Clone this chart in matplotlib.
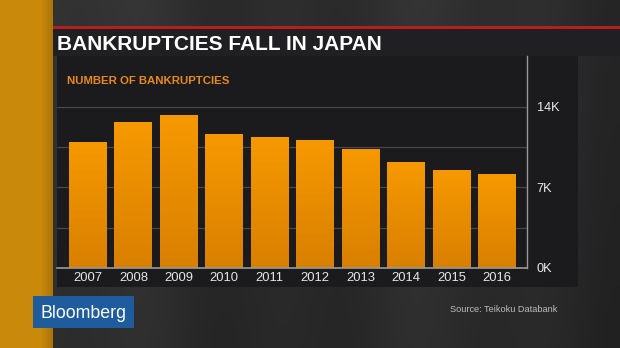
import numpy as np
import matplotlib
matplotlib.use("Agg")
import matplotlib.pyplot as plt
from matplotlib.patches import Rectangle

# ---- data ----
years = ["2007", "2008", "2009", "2010", "2011", "2012", "2013", "2014", "2015", "2016"]
bankruptcies = [10959, 12681, 13306, 11658, 11369, 11129, 10332, 9180, 8517, 8164]
ytick_values = [0, 7000, 14000]
ytick_labels = ["0K", "7K", "14K"]
minor_grid_values = [3500, 10500]
title = "BANKRUPTCIES FALL IN JAPAN"
subtitle = "NUMBER OF BANKRUPTCIES"
source = "Source: Teikoku Databank"
brand = "Bloomberg"

W, H = 620, 348
fig = plt.figure(figsize=(W / 100, H / 100), dpi=100)
fig.patch.set_facecolor("#2c2c2c")

# ---- background layer in pixel coordinates ----
bg = fig.add_axes([0, 0, 1, 1], zorder=0)
bg.set_xlim(0, W)
bg.set_ylim(H, 0)
bg.axis("off")

# dark studio backdrop with soft vertical bands
cols = np.linspace(0, 1, W)
band = (0.185 + 0.015 * np.sin(cols * 11.0) + 0.01 * np.sin(cols * 29.0 + 1.0)
        - 0.02 * cols)
rows = np.linspace(0, 1, H)[:, None]
img = band[None, :] * (1.05 - 0.12 * rows)
bg.imshow(np.dstack([img, img, img * 1.02]).clip(0, 1), extent=(0, W, H, 0),
          aspect="auto", zorder=0, interpolation="bilinear")

# orange side strip
strip = np.array([[0.79, 0.54, 0.04]]) * np.ones((53, 1))
shade = np.concatenate([np.full(40, 1.0), np.linspace(1.0, 0.85, 13)])
strip = (strip * shade[:, None])[None, :, :]
bg.imshow(strip, extent=(0, 53, H, 0), aspect="auto", zorder=1,
          interpolation="bilinear")

# red rule and title band
bg.add_patch(Rectangle((53, 26), W - 53, 2.5, color="#b3201f", zorder=2, lw=0))
bg.add_patch(Rectangle((53, 28.5), W - 53, 27.5, color="#202023", zorder=2, lw=0))
# chart panel
bg.add_patch(Rectangle((57, 56), 578 - 57, 287 - 56, color="#1b1b1e", zorder=2, lw=0))
# brand box
bg.add_patch(Rectangle((33, 296), 101, 32, color="#1f5c9e", zorder=3, lw=0))

bg.text(57, 50, title, color="white", fontsize=15.0, fontweight="bold",
        family=["Liberation Sans", "DejaVu Sans"], va="baseline", ha="left", zorder=4)
bg.text(67, 84, subtitle, color="#e8891c", fontsize=8.2, fontweight="bold",
        family=["Liberation Sans", "DejaVu Sans"], va="baseline", ha="left", zorder=4)
bg.text(557, 312, source, color="#bdbdbd", fontsize=6.6,
        family=["Liberation Sans", "DejaVu Sans"], va="baseline", ha="right", zorder=4)
bg.text(84, 317.5, brand, color="white", fontsize=12.8,
        family=["Liberation Sans", "DejaVu Sans"], va="baseline", ha="center", zorder=4)

# ---- chart axes ----
left_px, right_px, top_px, base_px = 57, 527, 56, 268
ax = fig.add_axes([left_px / W, 1 - base_px / H, (right_px - left_px) / W,
                   (base_px - top_px) / H], zorder=2)
ax.patch.set_alpha(0)

x = np.arange(len(years))
bars = ax.bar(x, bankruptcies, width=0.836, color="#f09000", zorder=3, lw=0)

ymax = 14000 * (base_px - top_px) / (base_px - 107)

# gradient fill for bars
grad = np.linspace(0, 1, 256)[:, None]
top_c = np.array([0.965, 0.600, 0.000])
bot_c = np.array([0.850, 0.500, 0.000])
gimg = (top_c[None, None, :] * (1 - grad[:, :, None]) + bot_c[None, None, :] * grad[:, :, None])
for b in bars:
    x0, y0 = b.get_x(), b.get_y()
    im = ax.imshow(gimg, extent=(x0, x0 + b.get_width(), y0, y0 + b.get_height()),
                   aspect="auto", zorder=4, origin="upper", interpolation="bilinear")
    im.set_clip_path(b)
ax.set_xlim(-0.682, len(years) - 1 + 0.66)
ax.set_ylim(0, ymax)

for sp in ["top", "left"]:
    ax.spines[sp].set_visible(False)
ax.spines["right"].set_color("#9a9a9a")
ax.spines["right"].set_linewidth(1.0)
ax.spines["bottom"].set_color("#9a9a9a")
ax.spines["bottom"].set_linewidth(1.2)
ax.spines["bottom"].set_zorder(5)

ax.yaxis.tick_right()
ax.set_yticks(ytick_values)
ax.set_yticklabels(ytick_labels)
ax.set_yticks(minor_grid_values, minor=True)
ax.set_xticks(x)
ax.set_xticklabels(years)
ax.tick_params(axis="both", which="both", length=0)
ax.tick_params(axis="y", pad=7, labelsize=9.2, labelcolor="#ececec")
ax.tick_params(axis="x", pad=3, labelsize=9.4, labelcolor="#e6e6e6")
for lab in ax.get_xticklabels() + ax.get_yticklabels():
    lab.set_family(["Liberation Sans", "DejaVu Sans"])
ax.grid(axis="y", which="both", color="#47474b", lw=0.9, zorder=1)
ax.grid(axis="x", visible=False)

fig.savefig("out.png", dpi=100, facecolor=fig.get_facecolor())
